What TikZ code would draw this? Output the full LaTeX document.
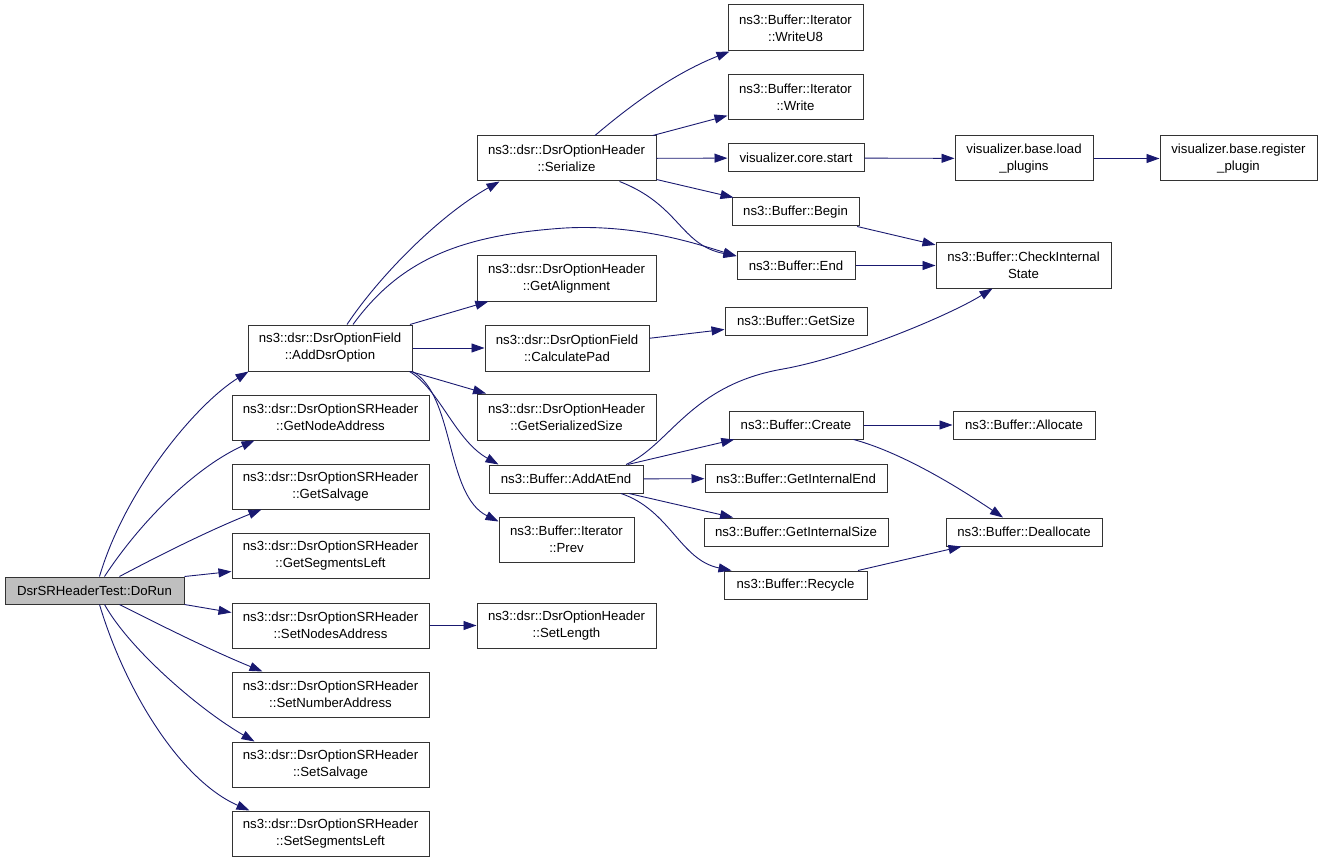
\documentclass[tikz,border=0pt]{standalone}
\usepackage{fontspec}
\setmainfont{Liberation Sans}
\usetikzlibrary{arrows.meta}
\definecolor{edgecol}{HTML}{191970}
\definecolor{boxcol}{HTML}{333333}
\definecolor{grayfill}{HTML}{BFBFBF}
\begin{document}
\begin{tikzpicture}[x=1pt,y=-1pt,
  fn/.style={draw=boxcol, line width=1pt, fill=white, inner sep=0pt, align=center,
    font=\fontsize{13.2}{17}\selectfont},
  e/.style={draw=edgecol, line width=0.9pt, -{Triangle[length=13pt,width=9pt]}}]
\useasboundingbox (0,0) rectangle (1323,861);
% column 0
\node[fn, fill=grayfill, minimum width=179pt, minimum height=27pt] (dorun) at (94.5,590.5) {DsrSRHeaderTest::DoRun};
% column 1
\node[fn, minimum width=164pt, minimum height=46pt] (adddsr) at (330,348) {ns3::dsr::DsrOptionField\\::AddDsrOption};
\node[fn, minimum width=197pt, minimum height=45pt] (getnode) at (330.5,417.5) {ns3::dsr::DsrOptionSRHeader\\::GetNodeAddress};
\node[fn, minimum width=197pt, minimum height=45pt] (getsalv) at (330.5,486.5) {ns3::dsr::DsrOptionSRHeader\\::GetSalvage};
\node[fn, minimum width=197pt, minimum height=45pt] (getseg) at (330.5,555.5) {ns3::dsr::DsrOptionSRHeader\\::GetSegmentsLeft};
\node[fn, minimum width=197pt, minimum height=45pt] (setnodes) at (330.5,625.5) {ns3::dsr::DsrOptionSRHeader\\::SetNodesAddress};
\node[fn, minimum width=197pt, minimum height=45pt] (setnum) at (330.5,694.5) {ns3::dsr::DsrOptionSRHeader\\::SetNumberAddress};
\node[fn, minimum width=197pt, minimum height=45pt] (setsalv) at (330.5,764.5) {ns3::dsr::DsrOptionSRHeader\\::SetSalvage};
\node[fn, minimum width=197pt, minimum height=45pt] (setseg) at (330.5,833.5) {ns3::dsr::DsrOptionSRHeader\\::SetSegmentsLeft};
% column 2
\node[fn, minimum width=179pt, minimum height=45pt] (ser) at (566.5,158.5) {ns3::dsr::DsrOptionHeader\\::Serialize};
\node[fn, minimum width=179pt, minimum height=45pt] (getalign) at (566.5,278.5) {ns3::dsr::DsrOptionHeader\\::GetAlignment};
\node[fn, minimum width=164pt, minimum height=46pt] (calcpad) at (567,348) {ns3::dsr::DsrOptionField\\::CalculatePad};
\node[fn, minimum width=179pt, minimum height=46pt] (getser) at (566.5,417) {ns3::dsr::DsrOptionHeader\\::GetSerializedSize};
\node[fn, minimum width=154pt, minimum height=28pt] (addatend) at (566,479) {ns3::Buffer::AddAtEnd};
\node[fn, minimum width=135pt, minimum height=45pt] (prev) at (566.5,539.5) {ns3::Buffer::Iterator\\::Prev};
\node[fn, minimum width=179pt, minimum height=45pt] (setlen) at (566.5,625.5) {ns3::dsr::DsrOptionHeader\\::SetLength};
% column 3
\node[fn, minimum width=135pt, minimum height=46pt] (wu8) at (795.5,28) {ns3::Buffer::Iterator\\::WriteU8};
\node[fn, minimum width=135pt, minimum height=45pt] (write) at (795.5,97.5) {ns3::Buffer::Iterator\\::Write};
\node[fn, minimum width=136pt, minimum height=28pt] (vstart) at (796,158) {visualizer.core.start};
\node[fn, minimum width=127pt, minimum height=28pt] (begin) at (795.5,212) {ns3::Buffer::Begin};
\node[fn, minimum width=118pt, minimum height=27pt] (end) at (796,265.5) {ns3::Buffer::End};
\node[fn, minimum width=142pt, minimum height=28pt] (getsize) at (796,321) {ns3::Buffer::GetSize};
\node[fn, minimum width=134pt, minimum height=28pt] (create) at (796,425) {ns3::Buffer::Create};
\node[fn, minimum width=182pt, minimum height=28pt] (getiend) at (796,478.5) {ns3::Buffer::GetInternalEnd};
\node[fn, minimum width=184pt, minimum height=28pt] (getisize) at (796,532) {ns3::Buffer::GetInternalSize};
\node[fn, minimum width=143pt, minimum height=28pt] (recycle) at (795.5,585) {ns3::Buffer::Recycle};
% column 4
\node[fn, minimum width=138pt, minimum height=45pt] (loadp) at (1024,158.5) {visualizer.base.load\\\_plugins};
\node[fn, minimum width=175pt, minimum height=45pt] (check) at (1023.5,265.5) {ns3::Buffer::CheckInternal\\State};
\node[fn, minimum width=142pt, minimum height=28pt] (alloc) at (1024,425) {ns3::Buffer::Allocate};
\node[fn, minimum width=156pt, minimum height=28pt] (dealloc) at (1024,532) {ns3::Buffer::Deallocate};
% column 5
\node[fn, minimum width=157pt, minimum height=45pt] (regp) at (1238.5,158.5) {visualizer.base.register\\\_plugin};

% edges from DoRun
\draw[e] ([xshift=5pt]dorun.north) .. controls (125,490) and (195,405) .. ([xshift=1pt]adddsr.south west);
\draw[e] ([xshift=10pt]dorun.north) .. controls (145,515) and (200,465) .. ([xshift=23pt]getnode.south west);
\draw[e] ([xshift=25pt]dorun.north) .. controls (160,555) and (210,530) .. ([xshift=30pt]getsalv.south west);
\draw[e] (dorun.north east) -- ([yshift=-16pt]getseg.west);
\draw[e] (dorun.south east) -- ([yshift=13pt]setnodes.west);
\draw[e] ([xshift=25pt]dorun.south) .. controls (160,625) and (210,650) .. ([xshift=31pt]setnum.north west);
\draw[e] ([xshift=10pt]dorun.south) .. controls (130,650) and (200,710) .. ([xshift=23pt]setsalv.north west);
\draw[e] ([xshift=5pt]dorun.south) .. controls (125,690) and (180,780) .. ([xshift=18pt]setseg.north west);
% edges from AddDsrOption
\draw[e] ([xshift=17pt]adddsr.north) .. controls (380,275) and (440,215) .. ([xshift=23pt]ser.south west);
\draw[e] ([xshift=23pt]adddsr.north) .. controls (400,260) and (460,235) .. (565,228) .. controls (640,224) and (700,245) .. ([yshift=9.5pt]end.west);
\draw[e] (adddsr) -- (getalign);
\draw[e] (adddsr) -- (calcpad);
\draw[e] (adddsr) -- (getser);
\draw[e] ([xshift=-3pt]adddsr.south east) .. controls (440,390) and (455,440) .. ([xshift=10pt]addatend.north west);
\draw[e] (adddsr.south east) .. controls (455,395) and (445,495) .. ([yshift=-5pt]prev.north west);
% SetNodesAddress
\draw[e] (setnodes) -- (setlen);
% Serialize
\draw[e] ([xshift=28.5pt]ser.north) .. controls (625,110) and (670,75) .. ([xshift=2pt]wu8.south west);
\draw[e] (ser) -- (write);
\draw[e] (ser) -- (vstart);
\draw[e] (ser) -- (begin);
\draw[e] ([xshift=53pt]ser.south) .. controls (680,205) and (680,245) .. ([yshift=9.5pt]end.west);
\draw[e] (vstart) -- (loadp);
\draw[e] (loadp) -- (regp);
\draw[e] (begin) -- (check);
\draw[e] (end) -- (check);
% AddAtEnd
\draw[e] ([xshift=60pt]addatend.north) .. controls (670,445) and (690,385) .. (783,369) .. controls (850,357) and (950,315) .. ([xshift=-31pt]check.south);
\draw[e] (addatend) -- (create);
\draw[e] (addatend) -- (getiend);
\draw[e] (addatend) -- (getisize);
\draw[e] ([xshift=55pt]addatend.south) .. controls (670,510) and (680,560) .. ([xshift=8pt]recycle.north west);
% others
\draw[e] (calcpad) -- (getsize);
\draw[e] (create) -- (alloc);
\draw[e] ([xshift=-10pt]create.south east) .. controls (900,452) and (955,485) .. ([xshift=-21pt]dealloc.north);
\draw[e] (recycle) -- (dealloc);
\end{tikzpicture}
\end{document}
